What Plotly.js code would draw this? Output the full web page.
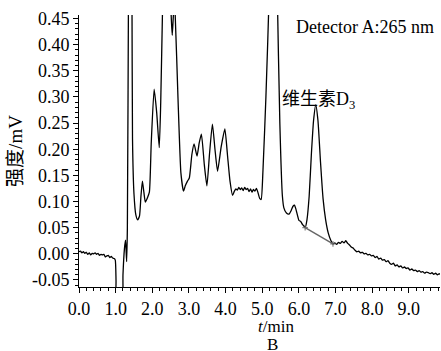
<!DOCTYPE html>
<html>
<head>
<meta charset="utf-8">
<script src="https://cdn.plot.ly/plotly-3.0.1.min.js"></script>
<style>html,body{margin:0;padding:0;background:#fff;}#chart{width:441px;height:351px;}</style>
</head>
<body>
<div id="chart"></div>
<script>
// retention time (min)
const time = [
0.00,0.04,0.08,0.12,0.16,0.20,0.24,0.28,0.32,0.36,0.40,0.44,0.48,0.52,0.56,0.60,0.64,0.68,0.72,0.76,0.80,0.84,0.88,0.92,0.96,0.99,
1.01,1.03,1.17,1.20,1.24,1.27,1.30,1.32,1.35,1.40,1.445,1.46,1.50,1.55,1.60,1.65,1.69,1.73,1.77,1.81,1.86,1.92,1.97,
2.05,2.12,2.19,2.23,2.28,2.38,2.48,2.515,2.545,2.575,2.60,2.625,2.70,2.78,2.85,2.90,2.96,
3.01,3.08,3.14,3.22,3.28,3.34,3.42,3.49,3.56,3.64,3.71,3.78,3.88,3.98,
4.05,4.12,4.19,4.24,4.28,4.32,4.36,4.40,4.44,4.48,4.52,4.56,4.60,4.64,4.68,4.72,4.76,4.80,4.84,4.88,4.93,4.97,
5.02,5.10,5.19,5.30,5.41,5.48,5.55,5.59,5.66,5.73,5.79,5.84,5.88,5.92,5.96,
6.00,6.05,6.10,6.14,6.17,6.22,6.28,6.34,6.40,6.46,6.52,6.59,6.66,6.73,6.80,6.87,6.93,6.98,
7.03,7.08,7.13,7.18,7.23,7.28,7.33,7.38,7.43,7.48,7.53,7.58,7.63,7.68,7.73,7.78,7.83,7.88,7.93,7.98,
8.03,8.08,8.13,8.18,8.23,8.28,8.33,8.38,8.43,8.48,8.53,8.58,8.63,8.68,8.73,8.78,8.83,8.88,8.93,8.98,
9.03,9.08,9.13,9.18,9.23,9.28,9.33,9.38,9.43,9.48,9.53,9.58,9.63,9.68,9.73,9.78,9.83,9.88
];
// detector signal (mV)
const signal = [
0.004,0.005,0.002,0.004,0.001,0.003,-0.001,0.002,-0.002,0.001,0.000,0.002,-0.001,0.001,-0.003,-0.001,-0.002,-0.001,-0.006,-0.004,-0.003,-0.007,-0.005,-0.008,-0.009,-0.012,
-0.05,-0.12,-0.12,-0.04,0.010,0.026,-0.015,0.05,0.50,1.00,0.50,0.22,0.115,0.075,0.065,0.072,0.11,0.139,0.118,0.099,0.106,0.118,0.21,
0.315,0.27,0.203,0.29,0.47,0.80,0.55,0.456,0.418,0.456,0.48,0.456,0.30,0.155,0.120,0.130,0.139,
0.145,0.19,0.210,0.187,0.212,0.229,0.17,0.130,0.19,0.248,0.20,0.158,0.205,0.239,
0.19,0.139,0.112,0.120,0.124,0.122,0.127,0.123,0.126,0.121,0.127,0.123,0.125,0.119,0.124,0.118,0.123,0.120,0.125,0.118,0.106,0.104,
0.16,0.30,0.50,0.95,0.50,0.25,0.11,0.088,0.078,0.076,0.083,0.091,0.093,0.085,0.074,
0.064,0.062,0.056,0.053,0.050,0.065,0.11,0.19,0.255,0.285,0.255,0.175,0.105,0.065,0.040,0.026,0.019,0.021,
0.018,0.022,0.020,0.024,0.021,0.025,0.020,0.017,0.013,0.011,0.007,0.004,0.005,0.002,0.003,0.000,0.001,-0.002,-0.001,-0.004,
-0.003,-0.007,-0.005,-0.010,-0.008,-0.012,-0.011,-0.015,-0.013,-0.018,-0.020,-0.018,-0.023,-0.021,-0.025,-0.023,-0.027,-0.025,-0.028,-0.027,
-0.031,-0.029,-0.032,-0.031,-0.034,-0.032,-0.035,-0.034,-0.037,-0.035,-0.036,-0.038,-0.036,-0.039,-0.037,-0.040,-0.038,-0.041
];
// integration baseline under the vitamin D3 peak
const baseTime = [6.17, 6.93];
const baseSignal = [0.050, 0.019];

const xTicks = [0,1,2,3,4,5,6,7,8,9];
const xTickLabels = ["0.0","1.0","2.0","3.0","4.0","5.0","6.0","7.0","8.0","9.0"];
const yTicks = [-0.05,0,0.05,0.10,0.15,0.20,0.25,0.30,0.35,0.40,0.45];
const yTickLabels = ["-0.05","0.00","0.05","0.10","0.15","0.20","0.25","0.30","0.35","0.40","0.45"];

const serif = "Liberation Serif";
const serifCJK = "'Liberation Serif', 'Noto Sans CJK SC', serif";

const traces = [
  {x: time, y: signal, type: 'scatter', mode: 'lines',
   line: {color: '#000', width: 1.3, shape: 'spline', smoothing: 0.5}, hoverinfo: 'skip'},
  {x: baseTime, y: baseSignal, type: 'scatter', mode: 'lines+markers',
   line: {color: '#666', width: 1.4}, marker: {color: '#666', size: 4, symbol: 'cross-thin', line: {color: '#666', width: 1}}, hoverinfo: 'skip'}
];

const layout = {
  width: 441, height: 351,
  margin: {l: 79, r: 1, t: 15, b: 64},
  paper_bgcolor: '#fff', plot_bgcolor: '#fff',
  showlegend: false,
  font: {family: serif, color: '#000', size: 18},
  xaxis: {
    range: [0, 9.85], showgrid: false, zeroline: false,
    showline: true, linecolor: '#000', linewidth: 1,
    tickmode: 'array', tickvals: xTicks, ticktext: xTickLabels,
    ticks: 'outside', ticklen: 5, tickwidth: 1, tickcolor: '#000',
    minor: {dtick: 0.2, ticks: 'outside', ticklen: 3, tickwidth: 1, tickcolor: '#000', showgrid: false},
    tickfont: {family: serif, size: 18, color: '#000'},
    automargin: false, fixedrange: true
  },
  yaxis: {
    range: [-0.0634, 0.4567], showgrid: false, zeroline: false,
    showline: true, linecolor: '#000', linewidth: 1,
    tickmode: 'array', tickvals: yTicks, ticktext: yTickLabels,
    ticks: 'outside', ticklen: 5, tickwidth: 1, tickcolor: '#000',
    minor: {dtick: 0.01, ticks: 'outside', ticklen: 3, tickwidth: 1, tickcolor: '#000', showgrid: false},
    tickfont: {family: serif, size: 18, color: '#000'},
    title: {text: '强度/mV', font: {family: serifCJK, size: 19, color: '#000'}, standoff: 4},
    automargin: false, fixedrange: true
  },
  annotations: [
    {text: 'Detector A:265 nm', xref: 'paper', yref: 'paper', x: 0.99, y: 0.955, xanchor: 'right', yanchor: 'middle',
     showarrow: false, font: {family: serif, size: 18, color: '#000'}},
    {text: '维生素D<sub>3</sub>', xref: 'x', yref: 'y', x: 6.54, y: 0.294, xanchor: 'center', yanchor: 'middle',
     showarrow: false, font: {family: serifCJK, size: 18, color: '#000'}},
    {text: '<i>t</i>/min', xref: 'paper', yref: 'paper', x: 0.545, y: -0.147, xanchor: 'center', yanchor: 'middle',
     showarrow: false, borderpad: 0, font: {family: serif, size: 17, color: '#000'}},
    {text: 'B', xref: 'paper', yref: 'paper', x: 0.535, y: -0.212, xanchor: 'center', yanchor: 'middle',
     showarrow: false, borderpad: 0, font: {family: serif, size: 17, color: '#000'}}
  ]
};

Plotly.newPlot('chart', traces, layout, {staticPlot: true, displayModeBar: false});
</script>
</body>
</html>
